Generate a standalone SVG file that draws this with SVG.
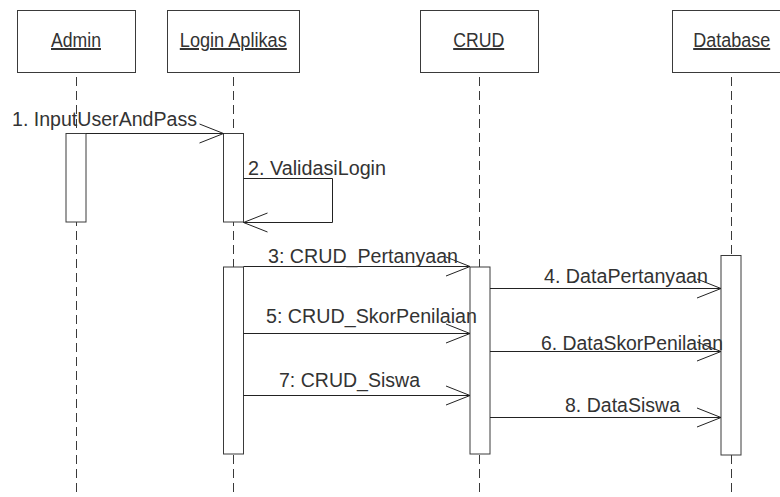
<svg xmlns="http://www.w3.org/2000/svg" width="780" height="497" viewBox="0 0 780 497">
<style>
.box{fill:#fff;stroke:#3a3a3a;stroke-width:1}
.act{fill:#fff;stroke:#3a3a3a;stroke-width:1}
.life{stroke:#3a3a3a;stroke-width:1;stroke-dasharray:9,5;fill:none}
.hd{font-family:"Liberation Sans",Arial,sans-serif;font-size:20px;fill:#333;text-anchor:middle;text-decoration:underline}
.msg{stroke:#222;stroke-width:1;fill:none}
.lbl{font-family:"Liberation Sans",Arial,sans-serif;font-size:20px;fill:#333}
</style>
<defs>
<marker id="open" markerUnits="userSpaceOnUse" markerWidth="30" markerHeight="24" viewBox="-26 -12 30 24" refX="0" refY="0" orient="auto">
<path d="M-24,-9.5 L0,0 L-24,9.5" fill="none" stroke="#222" stroke-width="1"/>
</marker>
</defs>
<rect width="780" height="497" fill="#fff"/>

<g id="admin">
<line class="life" x1="76.5" y1="77" x2="76.5" y2="497"/>
<rect class="box" x="17.5" y="10.5" width="118" height="62"/>
<text class="hd" x="76" y="47" textLength="50" lengthAdjust="spacingAndGlyphs">Admin</text>
<rect class="act" x="66" y="133.5" width="20" height="88.5"/>
</g>

<g id="login">
<line class="life" x1="233.5" y1="77" x2="233.5" y2="497"/>
<rect class="box" x="167.5" y="10.5" width="132" height="62"/>
<text class="hd" x="233.3" y="47" textLength="107" lengthAdjust="spacingAndGlyphs">Login Aplikas</text>
<rect class="act" x="223.5" y="133.5" width="20" height="88.5"/>
<rect class="act" x="223.5" y="267" width="20" height="187"/>
</g>

<g id="crud">
<line class="life" x1="479.5" y1="77" x2="479.5" y2="497"/>
<rect class="box" x="420.5" y="10.5" width="118" height="62"/>
<text class="hd" x="478.7" y="47" textLength="51" lengthAdjust="spacingAndGlyphs">CRUD</text>
<rect class="act" x="470" y="267" width="20" height="187"/>
</g>

<g id="database">
<line class="life" x1="731.5" y1="77" x2="731.5" y2="497"/>
<rect class="box" x="672.5" y="10.5" width="118" height="62"/>
<text class="hd" x="731.7" y="47" textLength="77" lengthAdjust="spacingAndGlyphs">Database</text>
<rect class="act" x="721" y="255.5" width="20" height="199.5"/>
</g>

<g id="connectors">
<line class="msg" x1="86" y1="133.5" x2="223.5" y2="133.5" marker-end="url(#open)"/>
<text class="lbl" x="12" y="126" textLength="185" lengthAdjust="spacingAndGlyphs">1. InputUserAndPass</text>

<polyline class="msg" points="243.5,178.5 332.5,178.5 332.5,222.5 243.5,222.5" marker-end="url(#open)"/>
<text class="lbl" x="248" y="175" textLength="138" lengthAdjust="spacingAndGlyphs">2. ValidasiLogin</text>

<line class="msg" x1="243.5" y1="266.5" x2="470" y2="266.5" marker-end="url(#open)"/>
<text class="lbl" x="268" y="263" textLength="190" lengthAdjust="spacingAndGlyphs">3: CRUD_Pertanyaan</text>

<line class="msg" x1="490" y1="288.5" x2="721" y2="288.5" marker-end="url(#open)"/>
<text class="lbl" x="544" y="283" textLength="164" lengthAdjust="spacingAndGlyphs">4. DataPertanyaan</text>

<line class="msg" x1="243.5" y1="333.5" x2="470" y2="333.5" marker-end="url(#open)"/>
<text class="lbl" x="266" y="322.5" textLength="211" lengthAdjust="spacingAndGlyphs">5: CRUD_SkorPenilaian</text>

<line class="msg" x1="490" y1="351.5" x2="721" y2="351.5" marker-end="url(#open)"/>
<text class="lbl" x="541" y="350" textLength="182" lengthAdjust="spacingAndGlyphs">6. DataSkorPenilaian</text>

<line class="msg" x1="243.5" y1="395.5" x2="470" y2="395.5" marker-end="url(#open)"/>
<text class="lbl" x="279" y="387" textLength="141" lengthAdjust="spacingAndGlyphs">7: CRUD_Siswa</text>

<line class="msg" x1="490" y1="417.5" x2="721" y2="417.5" marker-end="url(#open)"/>
<text class="lbl" x="565" y="411.5" textLength="115" lengthAdjust="spacingAndGlyphs">8. DataSiswa</text>
</g>
</svg>
